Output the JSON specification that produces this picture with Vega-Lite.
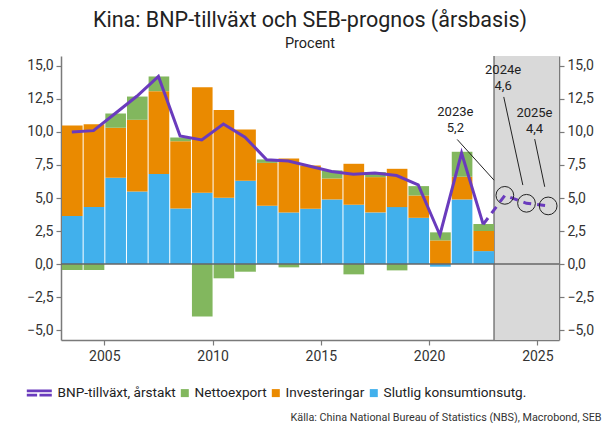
{
  "$schema": "https://vega.github.io/schema/vega-lite/v6.json",
  "width": 498,
  "height": 284,
  "autosize": {"type": "none"},
  "padding": {"left": 61, "top": 56, "right": 44, "bottom": 83},
  "background": "white",
  "config": {
    "font": "Roboto",
    "view": {"stroke": null},
    "axis": {
      "grid": false,
      "domainColor": "#7a7a7a",
      "tickColor": "#7a7a7a",
      "domainWidth": 1.5,
      "tickWidth": 1.2,
      "tickSize": 5,
      "labelFontSize": 14,
      "labelColor": "#333333",
      "labelFont": "Roboto"
    }
  },
  "title": {
    "text": "Kina: BNP-tillväxt och SEB-prognos (årsbasis)",
    "subtitle": "Procent",
    "anchor": "middle",
    "frame": "group",
    "font": "Roboto",
    "fontSize": 21.5,
    "fontWeight": "normal",
    "color": "#222222",
    "subtitleFont": "Roboto",
    "subtitleFontSize": 14.5,
    "subtitleColor": "#222222",
    "subtitlePadding": 5,
    "offset": 5
  },
  "datasets": {
    "historik": [
      {"år": "2003", "kons": 3.63, "inv": 6.86, "netto": -0.45, "bnp": 10.0},
      {"år": "2004", "kons": 4.31, "inv": 6.28, "netto": -0.45, "bnp": 10.1},
      {"år": "2005", "kons": 6.53, "inv": 3.78, "netto": 1.09, "bnp": 11.4},
      {"år": "2006", "kons": 5.50, "inv": 5.42, "netto": 1.76, "bnp": 12.7},
      {"år": "2007", "kons": 6.81, "inv": 6.28, "netto": 1.11, "bnp": 14.2},
      {"år": "2008", "kons": 4.21, "inv": 5.09, "netto": 0.28, "bnp": 9.7},
      {"år": "2009", "kons": 5.40, "inv": 7.99, "netto": -3.98, "bnp": 9.4},
      {"år": "2010", "kons": 5.02, "inv": 6.65, "netto": -1.08, "bnp": 10.6},
      {"år": "2011", "kons": 6.30, "inv": 3.89, "netto": -0.58, "bnp": 9.6},
      {"år": "2012", "kons": 4.41, "inv": 3.25, "netto": 0.26, "bnp": 7.9},
      {"år": "2013", "kons": 3.91, "inv": 4.08, "netto": -0.25, "bnp": 7.8},
      {"år": "2014", "kons": 4.19, "inv": 3.27, "netto": -0.05, "bnp": 7.4},
      {"år": "2015", "kons": 4.89, "inv": 1.59, "netto": 0.61, "bnp": 7.0},
      {"år": "2016", "kons": 4.49, "inv": 3.10, "netto": -0.78, "bnp": 6.8},
      {"år": "2017", "kons": 3.91, "inv": 2.67, "netto": 0.38, "bnp": 6.9},
      {"år": "2018", "kons": 4.31, "inv": 2.90, "netto": -0.48, "bnp": 6.7},
      {"år": "2019", "kons": 3.50, "inv": 1.69, "netto": 0.71, "bnp": 6.0},
      {"år": "2020", "kons": -0.20, "inv": 1.79, "netto": 0.61, "bnp": 2.2},
      {"år": "2021", "kons": 4.89, "inv": 1.72, "netto": 1.89, "bnp": 8.4},
      {"år": "2022", "kons": 0.98, "inv": 1.52, "netto": 0.53, "bnp": 3.0}
    ],
    "prognos": [
      {"år": "2022", "bnp": 3.0},
      {"år": "2023", "bnp": 5.2},
      {"år": "2024", "bnp": 4.6},
      {"år": "2025", "bnp": 4.4}
    ],
    "markering": [
      {"år": "2023", "bnp": 5.2},
      {"år": "2024", "bnp": 4.6},
      {"år": "2025", "bnp": 4.4}
    ],
    "komponenter": [
      {"kod": "kons", "namn": "Slutlig konsumtionsutg.", "ord": 1},
      {"kod": "inv", "namn": "Investeringar", "ord": 2},
      {"kod": "netto", "namn": "Nettoexport", "ord": 3}
    ],
    "skuggning": [{"fran": "2023", "till": "2026"}],
    "ledare": [
      {"x": "2021-04-20", "y": 9.43, "x2": "2023-01-01", "y2": 6.35},
      {"x": "2023-06-14", "y": 12.65, "x2": "2024-05-01", "y2": 5.98},
      {"x": "2024-11-17", "y": 9.46, "x2": "2025-05-05", "y2": 5.85}
    ],
    "etiketter": [
      {"x": "2021-03-20", "y": 11.5, "text": "2023e\n5,2"},
      {"x": "2023-06-03", "y": 14.67, "text": "2024e\n4,6"},
      {"x": "2024-11-13", "y": 11.47, "text": "2025e\n4,4"}
    ]
  },
  "layer": [
    {
      "data": {"name": "skuggning"},
      "mark": {"type": "rect", "fill": "#d9d9d9"},
      "encoding": {
        "x": {"field": "fran", "type": "temporal", "scale": {"type": "utc"}},
        "x2": {"field": "till"}
      }
    },
    {
      "data": {"name": "skuggning"},
      "mark": {"type": "rule", "color": "#7a7a7a", "strokeWidth": 1.5},
      "encoding": {
        "x": {"field": "fran", "type": "temporal", "scale": {"type": "utc"}}
      }
    },
    {
      "data": {"name": "historik"},
      "transform": [
        {"fold": ["kons", "inv", "netto"], "as": ["kod", "pct"]},
        {"lookup": "kod", "from": {"data": {"name": "komponenter"}, "key": "kod", "fields": ["namn", "ord"]}}
      ],
      "mark": {"type": "bar"},
      "encoding": {
        "x": {
          "field": "år",
          "type": "temporal",
          "timeUnit": "utcyear",
          "scale": {"type": "utc", "domain": [{"year": 2003, "month": 1, "date": 1, "utc": true}, {"year": 2026, "month": 1, "date": 1, "utc": true}]},
          "axis": {
            "values": [1104537600000, 1262304000000, 1420070400000, 1577836800000, 1735689600000],
            "labelExpr": "utcFormat(datum.value, '%Y')",
            "labelPadding": 4,
            "labelFlush": false,
            "labelOverlap": false,
            "title": "Källa: China National Bureau of Statistics (NBS), Macrobond, SEB",
            "titleFont": "Roboto",
            "titleFontSize": 10.8,
            "titleFontWeight": "normal",
            "titleColor": "#333333",
            "titleAlign": "right",
            "titleBaseline": "alphabetic",
            "titleX": 540,
            "titleY": 80
          }
        },
        "y": {
          "field": "pct",
          "type": "quantitative",
          "stack": "zero",
          "scale": {"domain": [-5.75, 15.75], "nice": false, "zero": false},
          "axis": {
            "orient": "left",
            "values": [-5, -2.5, 0, 2.5, 5, 7.5, 10, 12.5, 15],
            "labelExpr": "replace(format(datum.value, '.1f'), '.', ',')",
            "labelPadding": 3,
            "title": null
          }
        },
        "color": {
          "field": "namn",
          "type": "nominal",
          "scale": {
            "domain": ["BNP-tillväxt, årstakt", "Nettoexport", "Investeringar", "Slutlig konsumtionsutg."],
            "range": ["#6a3bbd", "#82b75e", "#ea8a00", "#41b0ec"]
          },
          "legend": {
            "orient": "none",
            "legendX": -20,
            "legendY": 330,
            "direction": "horizontal",
            "title": null,
            "symbolSize": 64,
            "symbolType": "square",
            "symbolStrokeWidth": 0,
            "labelOffset": 3,
            "columnPadding": 2,
            "labelFont": "Roboto",
            "labelFontSize": 13.6,
            "labelColor": "#222222",
            "padding": 0,
            "encode": {
              "symbols": {
                "update": {
                  "shape": {"signal": "datum.value === 'BNP-tillväxt, årstakt' ? 'M-5.25,-0.875H1V-0.19H-5.25Z M-5.25,0.19H-2.67V0.875H-5.25Z M-2.08,0.19H1V0.875H-2.08Z' : 'square'"},
                  "fill": {"scale": "color", "field": "value"},
                  "strokeWidth": {"value": 0},
                  "opacity": {"value": 1}
                }
              }
            }
          }
        },
        "order": {"field": "ord", "type": "quantitative", "sort": "ascending"}
      }
    },
    {
      "data": {"values": [{}]},
      "mark": {"type": "rule", "color": "#666666", "strokeWidth": 1.5},
      "encoding": {
        "y": {"datum": 0, "type": "quantitative", "axis": null}
      }
    },
    {
      "data": {"name": "historik"},
      "mark": {"type": "line", "color": "#6a3bbd", "strokeWidth": 3},
      "encoding": {
        "x": {"field": "år", "type": "temporal", "timeUnit": "utcyear", "bandPosition": 0.5, "scale": {"type": "utc"}},
        "y": {
          "field": "bnp",
          "type": "quantitative",
          "axis": {
            "orient": "right",
            "values": [-5, -2.5, 0, 2.5, 5, 7.5, 10, 12.5, 15],
            "labelExpr": "replace(format(datum.value, '.1f'), '.', ',')",
            "labelPadding": 3,
            "title": null
          }
        }
      }
    },
    {
      "data": {"name": "prognos"},
      "mark": {"type": "line", "color": "#6a3bbd", "strokeWidth": 3, "strokeDash": [8, 6]},
      "encoding": {
        "x": {"field": "år", "type": "temporal", "timeUnit": "utcyear", "bandPosition": 0.5, "scale": {"type": "utc"}},
        "y": {"field": "bnp", "type": "quantitative", "axis": null}
      }
    },
    {
      "data": {"name": "markering"},
      "mark": {"type": "point", "shape": "circle", "size": 314, "filled": false, "stroke": "#222222", "strokeWidth": 1, "opacity": 1},
      "encoding": {
        "x": {"field": "år", "type": "temporal", "timeUnit": "utcyear", "bandPosition": 0.5, "scale": {"type": "utc"}},
        "y": {"field": "bnp", "type": "quantitative", "axis": null}
      }
    },
    {
      "data": {"name": "ledare"},
      "mark": {"type": "rule", "color": "#222222", "strokeWidth": 1},
      "encoding": {
        "x": {"field": "x", "type": "temporal", "scale": {"type": "utc"}},
        "y": {"field": "y", "type": "quantitative", "axis": null},
        "x2": {"field": "x2"},
        "y2": {"field": "y2"}
      }
    },
    {
      "data": {"name": "etiketter"},
      "mark": {"type": "text", "font": "Roboto", "fontSize": 13, "color": "#222222", "align": "center", "baseline": "middle", "lineBreak": "\n", "lineHeight": 16},
      "encoding": {
        "x": {"field": "x", "type": "temporal", "scale": {"type": "utc"}},
        "y": {"field": "y", "type": "quantitative", "axis": null},
        "text": {"field": "text", "type": "nominal"}
      }
    }
  ]
}
